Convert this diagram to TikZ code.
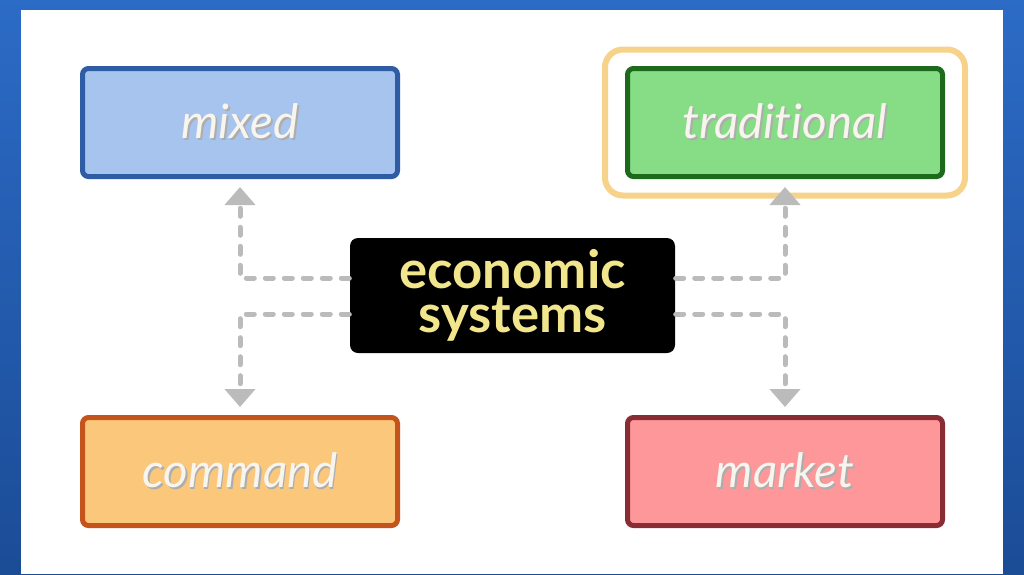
\documentclass[tikz,border=0pt]{standalone}
\usepackage{fontspec}
\setmainfont{Lato}[Ligatures=NoCommon]
\usepackage{xcolor}
\usepackage{tikz}
\usetikzlibrary{arrows.meta}

\definecolor{bgtop}{HTML}{2C6BC6}
\definecolor{bgbottom}{HTML}{1B4C96}
\definecolor{mixedfill}{HTML}{A7C4EE}
\definecolor{mixedline}{HTML}{2E5DA6}
\definecolor{tradfill}{HTML}{86DD86}
\definecolor{tradline}{HTML}{1D6A1D}
\definecolor{halo}{HTML}{F6D28A}
\definecolor{cmdfill}{HTML}{FBC77B}
\definecolor{cmdline}{HTML}{C4541C}
\definecolor{mktfill}{HTML}{FE9799}
\definecolor{mktline}{HTML}{8A2C33}
\definecolor{ecotext}{HTML}{F2E68C}
\definecolor{labeltext}{HTML}{F7F5EE}
\definecolor{linkgray}{HTML}{BBBBBB}

% text with a soft drop shadow
\newcommand{\shadowtext}[1]{\makebox[0pt][l]{\color{black!32}\raisebox{-1pt}{\hspace{0.9pt}#1}}#1}
\newcommand{\tightlines}{\lineskiplimit -50pt\relax}

\begin{document}
\begin{tikzpicture}[thick,
    S node/.style={rectangle, rounded corners=0.12cm, line width=0.1cm, minimum width=6.3cm, minimum height=2.16cm, text=labeltext, font=\fontsize{27}{30}\selectfont\itshape},
    C node/.style={rectangle, rounded corners=0.16cm, fill=black, minimum width=6.5cm, minimum height=2.3cm, align=center, text=ecotext, font=\fontsize{30}{25}\selectfont\bfseries\tightlines},
    link/.style={line width=0.1cm, linkgray, dash pattern=on 0.16cm off 0.22cm, line cap=round, shorten >=0.16cm, -{Triangle[length=0.36cm, width=0.6cm]}}]
    \useasboundingbox (0,0) rectangle (20.48,-11.48);
    \fill[top color=bgtop, bottom color=bgbottom] (0,0) rectangle (20.48,-11.48);
    \fill[white] (0.42,-0.2) rectangle (20.06,-11.48);

    \node[C node] (eco) at (10.25,-5.91) {economic\\systems};
    \node[S node, draw=mixedline, fill=mixedfill] (mixed) at (4.8,-2.45) {\shadowtext{mixed}};
    \node[S node, draw=tradline, fill=tradfill] (trad) at (15.7,-2.45) {\shadowtext{traditional}};
    \node[S node, draw=cmdline, fill=cmdfill] (cmd) at (4.8,-9.43) {\shadowtext{command}};
    \node[S node, draw=mktline, fill=mktfill] (mkt) at (15.7,-9.43) {\shadowtext{market}};

    \draw[halo, line width=0.12cm, rounded corners=0.36cm]
        ([xshift=-0.4cm, yshift=-0.33cm]trad.south west) rectangle ([xshift=0.4cm, yshift=0.33cm]trad.north east);

    \draw[link] ([yshift=0.35cm]eco.west) -| (mixed.south);
    \draw[link] ([yshift=-0.37cm]eco.west) -| (cmd.north);
    \draw[link] ([yshift=0.35cm]eco.east) -| (trad.south);
    \draw[link] ([yshift=-0.37cm]eco.east) -| (mkt.north);
\end{tikzpicture}
\end{document}
